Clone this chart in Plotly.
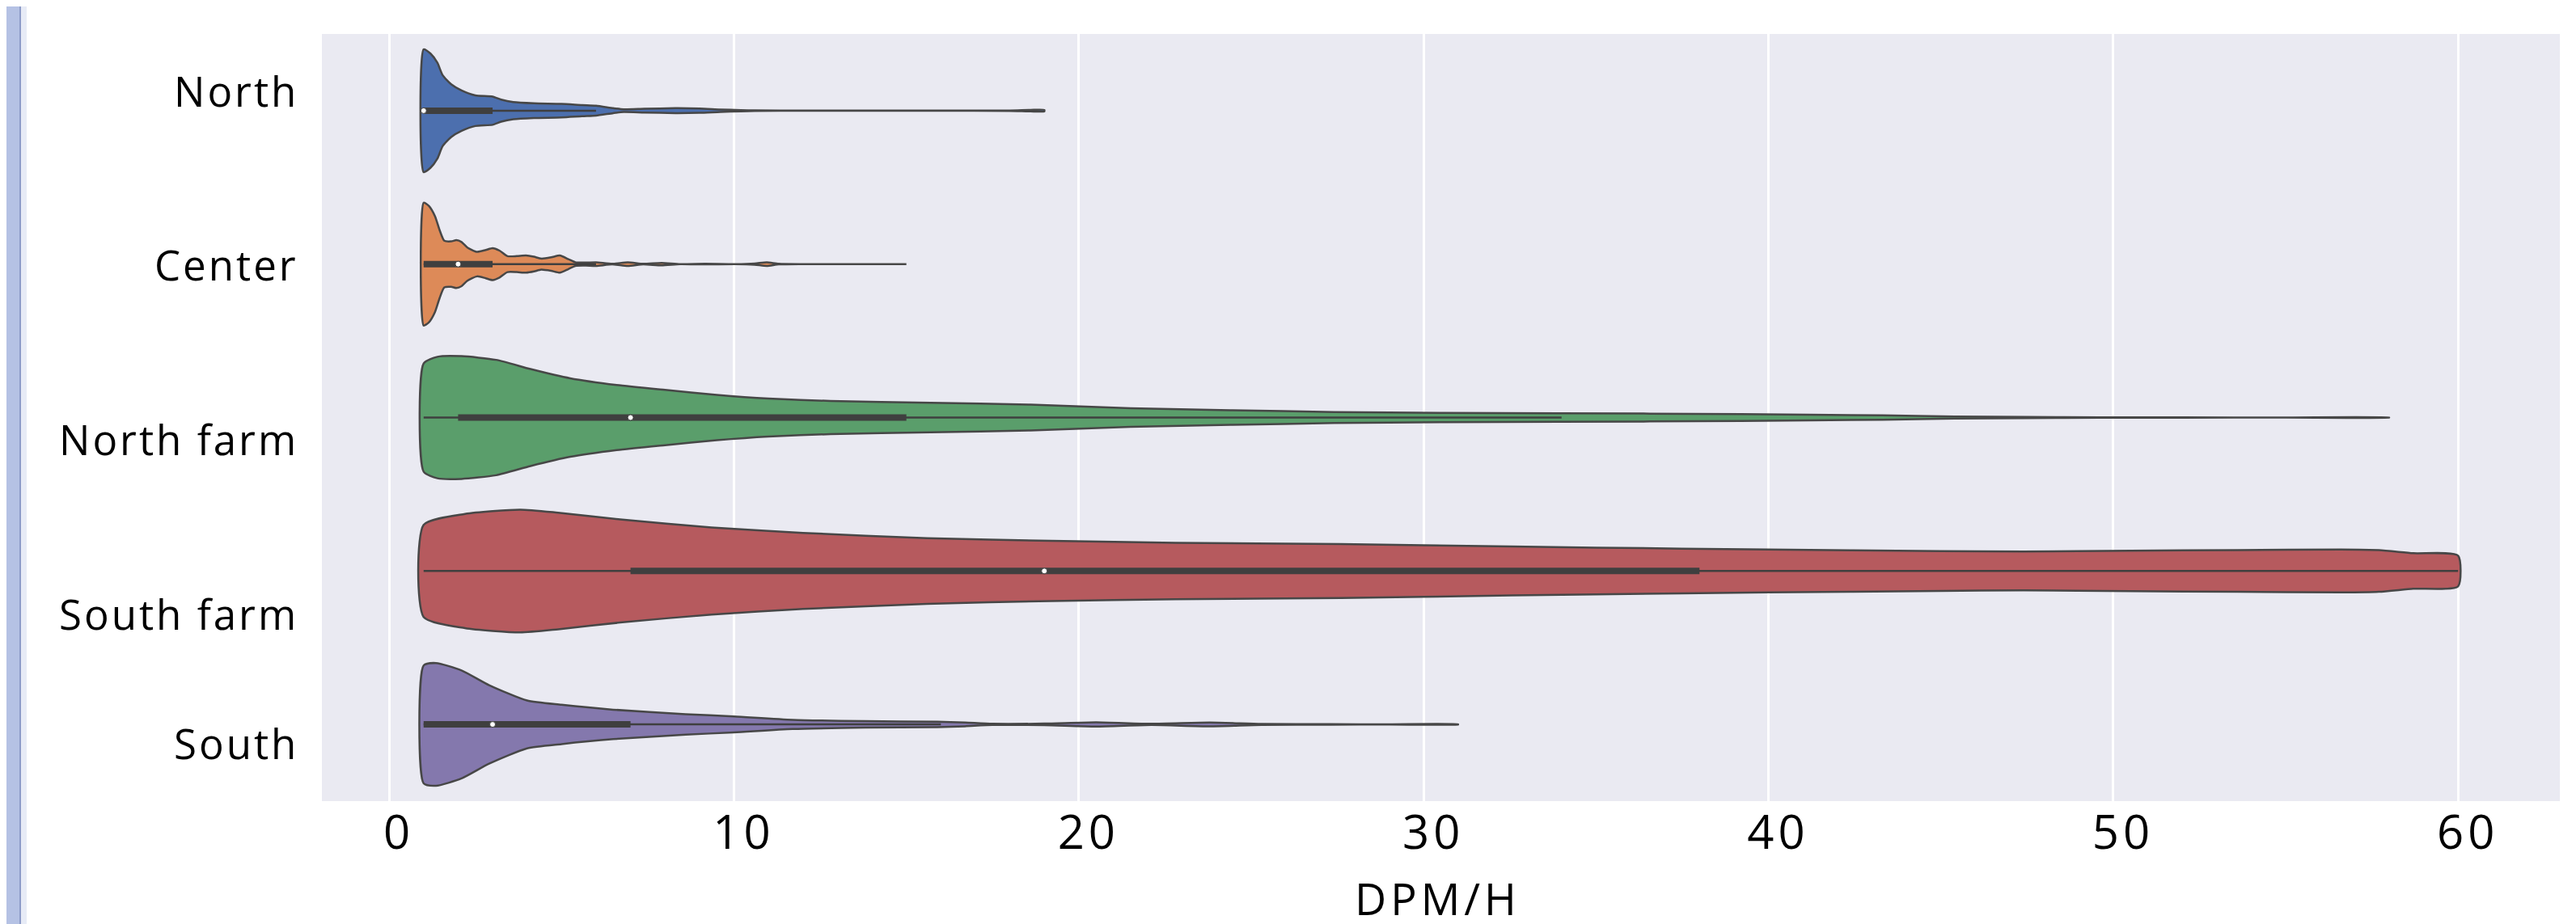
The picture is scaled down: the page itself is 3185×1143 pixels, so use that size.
import plotly.graph_objects as go
import numpy as np

# ---------------- data ----------------
categories = ["North", "Center", "North farm", "South farm", "South"]

# density profiles: DPM/H value and relative half-width (1 = widest point)
north_x = [1, 1.2, 1.4, 1.55, 1.8, 2.1, 2.5, 3.0, 3.25, 3.6, 4.2, 5.0, 5.6, 6.0,
           6.5, 6.8, 7.4, 8.3, 9.0, 9.6, 10.2, 10.6, 12, 14, 16, 18, 18.6, 19]
north_w = [1.0, 0.93, 0.78, 0.58, 0.43, 0.33, 0.25, 0.23, 0.18, 0.14, 0.12, 0.11,
           0.09, 0.08, 0.04, 0.022, 0.03, 0.04, 0.035, 0.02, 0.01, 0.004, 0.002,
           0.002, 0.002, 0.003, 0.012, 0.012]

center_x = [1, 1.15, 1.33, 1.46, 1.6, 1.8, 1.95, 2.1, 2.27, 2.55, 2.8, 3.0, 3.2,
            3.43, 3.7, 3.97, 4.2, 4.41, 4.7, 4.95, 5.2, 5.4, 5.7, 6.0, 6.47, 6.92,
            7.37, 7.9, 8.44, 9.16, 10.05, 10.6, 10.95, 11.3, 12, 13, 14, 15]
center_w = [1.0, 0.95, 0.78, 0.56, 0.38, 0.37, 0.39, 0.36, 0.27, 0.2, 0.23, 0.26,
            0.22, 0.13, 0.13, 0.14, 0.12, 0.09, 0.11, 0.14, 0.08, 0.03, 0.025,
            0.03, 0.005, 0.03, 0.005, 0.02, 0.0, 0.005, 0.0, 0.01, 0.03, 0.005,
            0.0, 0.0, 0.0, 0.0]

nfarm_x = [1, 1.4, 2.1, 3.1, 4.1, 5.25, 6.6, 8, 9.5, 11, 12.8, 15.7, 18.6, 21.5,
           24.4, 27.4, 30.6, 33.9, 39.2, 43.3, 45.4, 47.5, 49.6, 52, 55, 58]
nfarm_w = [0.88, 0.99, 1.0, 0.94, 0.79, 0.64, 0.53, 0.45, 0.37, 0.31, 0.27, 0.24,
           0.21, 0.15, 0.12, 0.09, 0.075, 0.07, 0.057, 0.035, 0.018, 0.009,
           0.004, 0.002, 0.001, 0.001]

sfarm_x = [1, 2.2, 3.8, 4.9, 6.7, 9.35, 12, 15.6, 19.2, 22.8, 27.6, 30, 35, 40,
           45, 47.4, 50.5, 53.6, 56.6, 57.7, 58.7, 60]
sfarm_w = [0.75, 0.93, 1.0, 0.95, 0.84, 0.71, 0.62, 0.535, 0.49, 0.46, 0.44, 0.42,
           0.38, 0.35, 0.325, 0.316, 0.33, 0.34, 0.35, 0.34, 0.29, 0.25]

south_x = [1, 1.36, 2.1, 2.9, 4.0, 5.0, 6.5, 8.6, 10, 11.7, 13.8, 15.9, 16.7,
           17.5, 19, 20.5, 22.1, 23.8, 25.3, 27.3, 29, 31]
south_w = [0.96, 1.0, 0.88, 0.64, 0.39, 0.32, 0.24, 0.167, 0.13, 0.075, 0.053,
           0.044, 0.03, 0.01, 0.013, 0.035, 0.01, 0.03, 0.008, 0.004, 0.002, 0.002]

# inner box statistics
q1 = [1, 1, 2, 7, 1]
median = [1, 2, 7, 19, 3]
q3 = [3, 3, 15, 38, 7]
whislo = [1, 1, 1, 1, 1]
whishi = [6, 6, 34, 60, 16]

x_ticks = [0, 10, 20, 30, 40, 50, 60]
x_title = "DPM/H"

# ---------------- style ----------------
colors = ["#4c6fae", "#dd8a58", "#5a9e6b", "#b65a5e", "#8478ad"]
edge = "#474747"
inner = "#3f3f3f"
half_width = 0.4
label_offsets = [-0.13, 0.0, 0.14, 0.28, 0.12]
FONT = "Open Sans"


def spaced(txt, px):
    return '<span style="letter-spacing:%dpx">%s</span>' % (px, txt)


profiles = [(north_x, north_w), (center_x, center_w), (nfarm_x, nfarm_w),
            (sfarm_x, sfarm_w), (south_x, south_w)]

fig = go.Figure()

for i, (px, pw) in enumerate(profiles):
    px = np.asarray(px, float)
    pw = np.asarray(pw, float)
    xs = np.concatenate([px, px[::-1], px[:1]])
    ys = np.concatenate([i - half_width * pw, (i + half_width * pw)[::-1],
                         [i - half_width * pw[0]]])
    fig.add_trace(go.Scatter(
        x=xs, y=ys, mode="lines", fill="toself", fillcolor=colors[i],
        line=dict(color=edge, width=2.5, shape="spline", smoothing=0.6),
        hoverinfo="skip", showlegend=False))

for i in range(len(categories)):
    fig.add_trace(go.Scatter(
        x=[whislo[i], whishi[i]], y=[i, i], mode="lines",
        line=dict(color=inner, width=2.5), showlegend=False, hoverinfo="skip"))
    fig.add_trace(go.Scatter(
        x=[q1[i], q3[i]], y=[i, i], mode="lines",
        line=dict(color=inner, width=8), showlegend=False, hoverinfo="skip"))
    fig.add_trace(go.Scatter(
        x=[median[i]], y=[i], mode="markers",
        marker=dict(color="white", size=7, line=dict(color=inner, width=1)),
        showlegend=False, hoverinfo="skip"))

W, H = 3185, 1143
ml, mr, mt, mb = 390, 28, 34, 160
pw_ = W - ml - mr
ph_ = H - mt - mb

annotations = []
for i, name in enumerate(categories):
    annotations.append(dict(
        x=0, xref="paper", xshift=-27, xanchor="right",
        y=i + label_offsets[i], yref="y", yanchor="middle",
        text=spaced(name, 3), showarrow=False,
        font=dict(family=FONT, size=51, color="#000000")))

# x-axis title placed as a centred annotation at the bottom of the figure
annotations.append(dict(
    x=0.5, xref="paper", xshift=-4, xanchor="center",
    y=-(1142 - (H - mb)) / ph_, yref="paper", yanchor="bottom",
    text=spaced(x_title, 5), showarrow=False,
    font=dict(family=FONT, size=54, color="#000000")))


def px2paper(xp):
    return (xp - ml) / pw_


# decorative left strip of the slide frame
shapes = [
    dict(type="rect", xref="paper", yref="paper", x0=px2paper(0), x1=px2paper(16),
         y0=-0.3, y1=1.2, fillcolor="#b5c2e4", line=dict(width=0), layer="below"),
    dict(type="rect", xref="paper", yref="paper", x0=px2paper(16), x1=px2paper(18),
         y0=-0.3, y1=1.2, fillcolor="#8d9cc8", line=dict(width=0), layer="below"),
    dict(type="rect", xref="paper", yref="paper", x0=px2paper(18), x1=px2paper(25),
         y0=-0.3, y1=1.2, fillcolor="#e7ebf6", line=dict(width=0), layer="below"),
]

fig.update_layout(
    width=W, height=H,
    margin=dict(l=ml, r=mr, t=mt, b=mb),
    paper_bgcolor="white", plot_bgcolor="#eaeaf2",
    annotations=annotations, shapes=shapes,
    showlegend=False,
    xaxis=dict(
        range=[-1.95, 62.95], tickvals=x_ticks,
        ticktext=[spaced(str(t), 5) for t in x_ticks],
        ticklabelshift=12,
        showgrid=True, gridcolor="white", gridwidth=3, zeroline=False,
        showline=False, ticks="",
        tickfont=dict(family=FONT, size=58, color="#000000"),
    ),
    yaxis=dict(
        range=[4.5, -0.5], showticklabels=False, showgrid=False, zeroline=False,
        showline=False, ticks="",
    ),
)

fig.write_html("out.html")
